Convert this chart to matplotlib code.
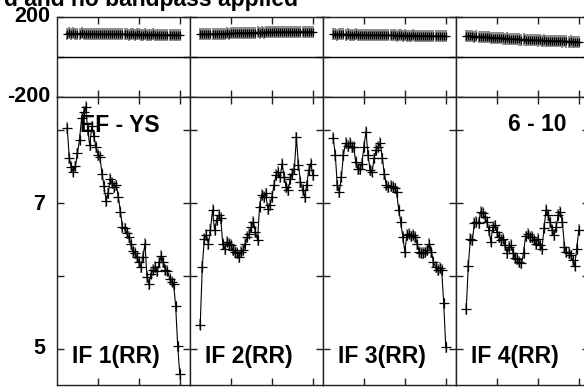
import numpy as np
import matplotlib
matplotlib.use("Agg")
import matplotlib.pyplot as plt

plt.rcParams['font.family'] = ['Liberation Sans', 'DejaVu Sans']
plt.rcParams['font.weight'] = 'bold'

# channels 5..60 in every IF
chan = np.arange(5, 61)

if_labels = ["IF 1(RR)", "IF 2(RR)", "IF 3(RR)", "IF 4(RR)"]

amp1 = [8.03, 7.62, 7.49, 7.43, 7.50, 7.68, 7.87, 8.16, 8.25, 8.32, 8.00, 7.79, 8.05, 7.92,
        7.77, 7.66, 7.63, 7.40, 7.23, 7.03, 7.13, 7.33, 7.27, 7.22, 7.24, 7.08, 6.88, 6.67,
        6.65, 6.59, 6.53, 6.44, 6.34, 6.31, 6.26, 6.19, 6.12, 6.26, 6.44, 5.98, 5.89, 6.03,
        6.08, 6.12, 6.06, 6.19, 6.27, 6.19, 6.08, 6.07, 5.96, 5.92, 5.89, 5.58, 5.03, 4.65]
amp2 = [5.33, 6.12, 6.51, 6.56, 6.44, 6.63, 6.90, 6.63, 6.76, 6.83, 6.79, 6.44, 6.37, 6.47,
        6.44, 6.42, 6.35, 6.33, 6.31, 6.26, 6.33, 6.35, 6.44, 6.53, 6.58, 6.67, 6.74, 6.60,
        6.49, 6.95, 7.11, 7.08, 7.13, 6.92, 6.97, 7.08, 7.24, 7.38, 7.43, 7.35, 7.54, 7.36,
        7.22, 7.18, 7.33, 7.40, 7.47, 7.90, 7.52, 7.29, 7.18, 7.08, 7.24, 7.45, 7.54, 7.38]
amp3 = [7.89, 7.66, 7.24, 7.15, 7.36, 7.66, 7.82, 7.78, 7.82, 7.77, 7.77, 7.56, 7.47, 7.47,
        7.54, 7.77, 7.98, 7.66, 7.45, 7.43, 7.61, 7.73, 7.77, 7.82, 7.61, 7.40, 7.24, 7.22,
        7.23, 7.22, 7.20, 7.15, 6.90, 6.74, 6.53, 6.33, 6.56, 6.58, 6.54, 6.56, 6.53, 6.44,
        6.33, 6.31, 6.31, 6.32, 6.35, 6.44, 6.33, 6.19, 6.12, 6.08, 6.11, 6.08, 5.62, 5.02]
amp4 = [5.54, 6.13, 6.51, 6.49, 6.72, 6.74, 6.72, 6.88, 6.86, 6.81, 6.74, 6.63, 6.47, 6.67,
        6.69, 6.60, 6.53, 6.49, 6.51, 6.42, 6.31, 6.40, 6.42, 6.31, 6.24, 6.23, 6.19, 6.17,
        6.31, 6.54, 6.58, 6.53, 6.53, 6.49, 6.44, 6.51, 6.42, 6.37, 6.65, 6.90, 6.83, 6.74,
        6.63, 6.56, 6.67, 6.83, 6.88, 6.74, 6.40, 6.33, 6.31, 6.28, 6.21, 6.14, 6.37, 6.63]

ph1 = [116, 117, 115, 117, 116, 115, 116, 117, 115, 114, 116, 115, 114, 115, 116, 114,
       113, 115, 114, 113, 114, 115, 113, 112, 114, 113, 112, 113, 114, 112, 111, 113,
       112, 111, 112, 113, 111, 110, 112, 111, 110, 111, 112, 110, 109, 111, 110, 109,
       110, 111, 109, 108, 110, 109, 108, 109]
ph2 = [113, 114, 112, 113, 114, 113, 115, 114, 114, 115, 116, 115, 116, 117, 116, 117,
       118, 117, 118, 119, 118, 119, 120, 119, 120, 121, 120, 121, 122, 121, 122, 121,
       122, 123, 122, 123, 122, 123, 124, 123, 124, 123, 124, 125, 124, 123, 124, 125,
       124, 125, 126, 125, 124, 125, 126, 125]
ph3 = [112, 113, 111, 112, 113, 112, 111, 112, 111, 110, 111, 112, 110, 109, 110, 111,
       109, 110, 109, 108, 109, 110, 108, 109, 108, 107, 108, 109, 107, 108, 107, 106,
       107, 108, 106, 107, 106, 105, 106, 107, 105, 106, 105, 104, 105, 106, 104, 105,
       104, 103, 104, 105, 103, 104, 103, 104]
ph4 = [104, 103, 104, 102, 101, 102, 100, 99, 100, 98, 97, 98, 96, 95, 96, 94,
       93, 94, 92, 91, 92, 90, 89, 90, 88, 89, 87, 86, 87, 85, 86, 84,
       85, 83, 84, 82, 83, 81, 82, 80, 81, 80, 79, 80, 78, 79, 78, 77,
       78, 77, 76, 77, 76, 75, 76, 75]

amp_err = 0.08
ph_err = 30

amps = [amp1, amp2, amp3, amp4]
phases = [ph1, ph2, ph3, ph4]

W, H = 584, 389
fig = plt.figure(figsize=(W / 100, H / 100), dpi=100)


def box(x0, y0, x1, y1):
    # pixel box (top-left origin) -> figure fraction
    return [x0 / W, 1 - y1 / H, (x1 - x0) / W, (y1 - y0) / H]


lefts = [57, 190, 323, 456]
pw = 133
ph_top, split, amp_bot = 16.7, 97.3, 385

for i in range(4):
    x0 = lefts[i]
    axp = fig.add_axes(box(x0, ph_top, x0 + pw, split))
    axa = fig.add_axes(box(x0, split, x0 + pw, amp_bot))

    axp.errorbar(chan, phases[i], yerr=ph_err, fmt='none', ecolor='#8a8a8a', elinewidth=1.4)
    axp.plot(chan, phases[i], color='black', lw=1.0, marker='+', ms=6, mew=0.9)
    axp.axhline(0, color='black', lw=1)
    axp.set_ylim(-200, 200)
    axp.set_yticks([-200, 0, 200])

    axa.errorbar(chan, amps[i], yerr=amp_err, fmt='none', ecolor='#9a9a9a', elinewidth=1.4)
    axa.plot(chan, amps[i], color='black', lw=0.8, marker='+', ms=7.5, mew=0.9)
    axa.set_ylim(4.5, 8.45)
    axa.set_yticks([5, 6, 7, 8])

    for ax in (axp, axa):
        ax.set_xlim(0, 65)
        ax.set_xticks([20, 40, 60])
        ax.tick_params(direction='in', length=5, width=1, top=True, right=True,
                       labelleft=False, labelbottom=False, color='#222222')
        for s in ax.spines.values():
            s.set_color('#222222')
            s.set_linewidth(1)

    fig.text((x0 + 15) / W, 1 - 363 / H, if_labels[i], fontsize=16.5,
             fontweight='bold', ha='left', va='baseline')

# axis numbers (AIPS style)
fig.text(50 / W, 1 - 17 / H, "200", fontsize=15.5, fontweight='bold', ha='right', va='center')
fig.text(50 / W, 1 - 97 / H, "-200", fontsize=15.5, fontweight='bold', ha='right', va='center')
fig.text(45 / W, 1 - 204 / H, "7", fontsize=15.5, fontweight='bold', ha='right', va='center')
fig.text(45 / W, 1 - 349 / H, "5", fontsize=15.5, fontweight='bold', ha='right', va='center')

fig.text(80 / W, 1 - 131.5 / H, "EF - YS", fontsize=16.5, fontweight='bold', ha='left', va='baseline')
fig.text(567 / W, 1 - 131 / H, "6 - 10", fontsize=16.5, fontweight='bold', ha='right', va='baseline')

fig.text(298 / W, 1 - 6 / H, "d and no bandpass applied", fontsize=16.5,
         fontweight='bold', ha='right', va='baseline')

fig.savefig("out.png", dpi=100)
